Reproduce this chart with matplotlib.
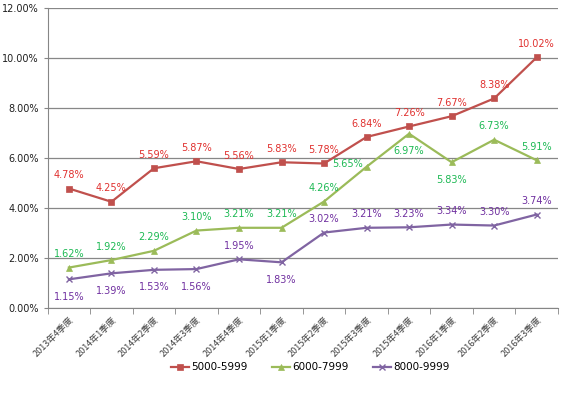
import numpy as np
import matplotlib.pyplot as plt
from matplotlib.ticker import FixedLocator, PercentFormatter

plt.rcParams['font.family'] = ['Noto Sans CJK SC', 'DejaVu Sans']

quarters = ["2013年4季度", "2014年1季度", "2014年2季度", "2014年3季度", "2014年4季度",
            "2015年1季度", "2015年2季度", "2015年3季度", "2015年4季度",
            "2016年1季度", "2016年2季度", "2016年3季度"]
s5000 = [4.78, 4.25, 5.59, 5.87, 5.56, 5.83, 5.78, 6.84, 7.26, 7.67, 8.38, 10.02]
s6000 = [1.62, 1.92, 2.29, 3.10, 3.21, 3.21, 4.26, 5.65, 6.97, 5.83, 6.73, 5.91]
s8000 = [1.15, 1.39, 1.53, 1.56, 1.95, 1.83, 3.02, 3.21, 3.23, 3.34, 3.30, 3.74]

# label placement per point
pos6000 = ["up"] * 7 + ["left", "down", "down", "up", "up"]
pos8000 = ["down", "down", "down", "down", "up", "down", "up", "up", "up", "up", "up", "up"]

series = [
    ("5000-5999", s5000, "#C0504D", "#E0312F", "s", ["up"] * 12),
    ("6000-7999", s6000, "#9BBB59", "#1DB954", "^", pos6000),
    ("8000-9999", s8000, "#8064A2", "#7030A0", "x", pos8000),
]
offsets = {"up": (0, 6), "down": (0, -9), "left": (-14, 2)}

fig = plt.figure(figsize=(5.67, 3.94), dpi=100)
ax = fig.add_axes([0.084, 0.218, 0.9, 0.762])
x = np.arange(len(quarters))

for name, vals, lc, tc, mk, where in series:
    ax.plot(x, vals, color=lc, lw=1.6, marker=mk, ms=4.5 if mk != "x" else 5,
            mew=1 if mk == "x" else 0.5, label=name, zorder=3)
    for xi, v, w in zip(x, vals, where):
        dx, dy = offsets[w]
        ax.annotate(f"{v:.2f}%", (xi, v), xytext=(dx, dy), textcoords="offset points",
                    ha="center", va="bottom" if w == "up" else ("top" if w == "down" else "center"),
                    fontsize=7, color=tc, family="DejaVu Sans")

ax.set_xlim(-0.5, len(quarters) - 0.5)
ax.set_ylim(0, 12)
ax.set_yticks(np.arange(0, 13, 2))
ax.yaxis.set_major_formatter(PercentFormatter(decimals=2))
ax.set_xticks(x)
ax.set_xticklabels(quarters, rotation=45, ha="right", rotation_mode="anchor",
                   fontsize=6.5, color="#404040")
ax.xaxis.set_minor_locator(FixedLocator(np.arange(-0.5, len(quarters), 1)))
ax.tick_params(axis="x", which="major", length=0, pad=5)
ax.tick_params(axis="x", which="minor", length=4, color="#868686")
ax.tick_params(axis="y", length=3, color="#868686", labelsize=7, labelcolor="#202020")
for lab in ax.get_yticklabels():
    lab.set_family("DejaVu Sans")

ax.grid(axis="y", color="#878787", lw=0.9)
ax.set_axisbelow(True)
for s in ["top", "right"]:
    ax.spines[s].set_visible(False)
ax.spines["left"].set_color("#868686")
ax.spines["bottom"].set_color("#868686")

leg = fig.legend(loc="center", bbox_to_anchor=(0.547, 0.068), ncol=3, frameon=False,
                 fontsize=7.5, handlelength=1.7, columnspacing=2.4, handletextpad=0.2)
for t in leg.get_texts():
    t.set_family("DejaVu Sans")

fig.savefig("out.png", dpi=100)
